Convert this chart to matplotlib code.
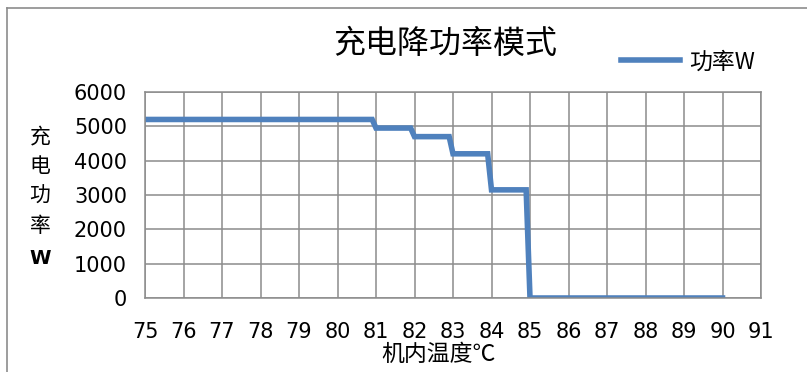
import matplotlib
matplotlib.use("Agg")
import matplotlib.pyplot as plt
from matplotlib.lines import Line2D

plt.rcParams['font.family'] = ['Noto Sans CJK SC', 'DejaVu Sans']

# step data: temperature (C) vs charging power (W)
temp = [75, 80.9, 81, 81.9, 82, 82.9, 83, 83.9, 84, 84.9, 85, 90]
power = [5200, 5200, 4950, 4950, 4700, 4700, 4200, 4200, 3150, 3150, 0, 0]
xticks = list(range(75, 92))
yticks = list(range(0, 7000, 1000))

fig = plt.figure(figsize=(8.07, 3.72), dpi=100)
ax = fig.add_axes([145 / 807, 1 - 298 / 372, (761 - 145) / 807, (298 - 92) / 372])

line_color = "#4F81BD"
grid_color = "#8c8c8c"

ax.plot(temp, power, color=line_color, lw=4, solid_joinstyle="miter", label="功率W")
ax.set_xlim(75, 91)
ax.set_ylim(0, 6000)
ax.set_xticks(xticks)
ax.set_yticks(yticks)
ax.grid(True, color=grid_color, lw=1.1)
ax.set_axisbelow(True)
for s in ax.spines.values():
    s.set_color(grid_color)
    s.set_linewidth(1.1)
ax.tick_params(length=0, labelsize=15)
ax.tick_params(axis="x", pad=17)
ax.tick_params(axis="y", pad=13)
for lab in ax.get_xticklabels() + ax.get_yticklabels():
    lab.set_family("DejaVu Sans")

# title and axis labels
fig.text(445 / 807, 1 - 44 / 372, "充电降功率模式", ha="center", va="center", fontsize=23)
fig.text(438 / 807, 1 - 354 / 372, "机内温度℃", ha="center", va="center", fontsize=16.5)
for i, ch in enumerate("充电功率"):
    fig.text(40 / 807, 1 - (136 + i * 30) / 372, ch, ha="center", va="center", fontsize=15)
fig.text(40 / 807, 1 - 258 / 372, "W", ha="center", va="center", fontsize=14,
         fontweight="bold", family="DejaVu Sans")

# legend
handle = Line2D([0], [0], color=line_color, lw=4)
fig.legend([handle], ["功率W"], loc="center left", bbox_to_anchor=(600 / 807, 1 - 62 / 372),
           frameon=False, fontsize=16.5, handlelength=2.6, handletextpad=0.4)

# outer frame (only left and top visible in the crop)
fig.add_artist(Line2D([7 / 807, 7 / 807], [0, 1 - 8 / 372], color="#8c8c8c", lw=1.2,
                      transform=fig.transFigure))
fig.add_artist(Line2D([7 / 807, 1], [1 - 8 / 372, 1 - 8 / 372], color="#8c8c8c", lw=1.2,
                      transform=fig.transFigure))

fig.savefig("out.png", dpi=100, facecolor="white")
